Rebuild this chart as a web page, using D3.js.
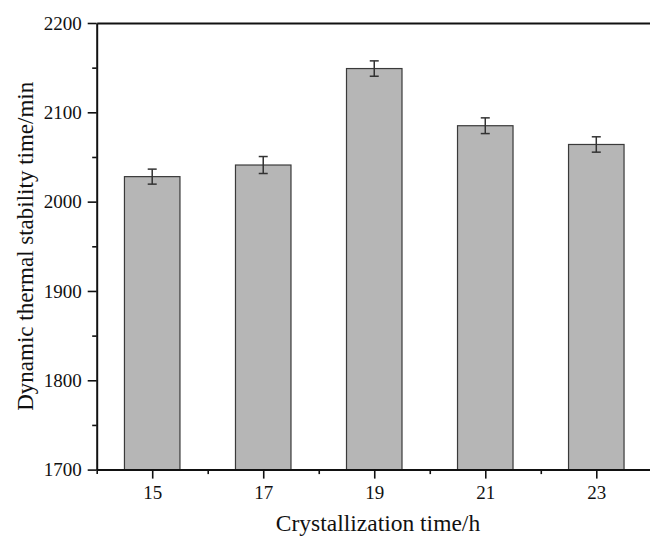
<!DOCTYPE html>
<html>
<head>
<meta charset="utf-8">
<script src="https://cdn.jsdelivr.net/npm/d3@7"></script>
<style>
  html, body { margin: 0; padding: 0; background: #fff; }
  svg { display: block; }
  svg text { font-family: "Liberation Serif", "Times New Roman", serif !important; fill: #111; }
</style>
</head>
<body>
<svg id="chart" width="650" height="540"></svg>
<script>
const categories = [15, 17, 19, 21, 23];
const values = [2028, 2041, 2149, 2085, 2064];
const errors = [8.4, 9.5, 8.6, 8.8, 8.6];
const yMajorTicks = [1700, 1800, 1900, 2000, 2100, 2200];
const yMinorTicks = [1750, 1850, 1950, 2050, 2150];
const xMajorTicks = [15, 17, 19, 21, 23];
const xMinorTicks = [14, 16, 18, 20, 22, 24];
const xTitle = "Crystallization time/h";
const yTitle = "Dynamic thermal stability time/min";

(function () {
const pLeft = 96.7, pRight = 651.8, pTop = 23, pBottom = 469.6;
const FONT = "Liberation Serif, Times New Roman, serif";
const svg = d3.select("#chart");

const x = d3.scaleLinear().domain([14, 24]).range([pLeft, pRight]);
const y = d3.scaleLinear().domain([1700, 2200]).range([pBottom, pTop]);
const barW = x(15.5) - x(14.5);

const data = categories.map((c, i) => ({ c, v: values[i], e: errors[i] }));

svg.append("g").selectAll("rect").data(data).join("rect")
  .attr("x", d => x(d.c) - barW / 2)
  .attr("y", d => y(d.v))
  .attr("width", barW)
  .attr("height", d => y(1700) - y(d.v))
  .attr("fill", "#b6b6b6")
  .attr("stroke", "#3a3a3a")
  .attr("stroke-width", 1.2);

const eg = svg.append("g").attr("stroke", "#333").attr("stroke-width", 1.5);
eg.selectAll("line.v").data(data).join("line").attr("class", "v")
  .attr("x1", d => x(d.c)).attr("x2", d => x(d.c))
  .attr("y1", d => y(d.v + d.e)).attr("y2", d => y(d.v - d.e));
eg.selectAll("line.t").data(data).join("line").attr("class", "t")
  .attr("x1", d => x(d.c) - 4.5).attr("x2", d => x(d.c) + 4.5)
  .attr("y1", d => y(d.v + d.e)).attr("y2", d => y(d.v + d.e));
eg.selectAll("line.b").data(data).join("line").attr("class", "b")
  .attr("x1", d => x(d.c) - 4.5).attr("x2", d => x(d.c) + 4.5)
  .attr("y1", d => y(d.v - d.e)).attr("y2", d => y(d.v - d.e));

function styleAxis(g) {
  g.attr("font-family", FONT).attr("font-size", 19);
  g.selectAll(".domain").attr("stroke", "#111").attr("stroke-width", 2);
  g.selectAll(".tick line").attr("stroke", "#111").attr("stroke-width", 1.6);
  g.selectAll(".tick text").attr("fill", "#111");
}

const yMinor = svg.append("g").attr("transform", `translate(${pLeft},0)`)
  .call(d3.axisLeft(y).tickValues(yMinorTicks).tickSize(4.5).tickFormat(""));
styleAxis(yMinor); yMinor.select(".domain").remove();

const yAxis = svg.append("g").attr("transform", `translate(${pLeft},0)`)
  .call(d3.axisLeft(y).tickValues(yMajorTicks).tickSize(9).tickSizeOuter(0).tickPadding(6).tickFormat(d3.format("d")));
styleAxis(yAxis);

const xMinor = svg.append("g").attr("transform", `translate(0,${pBottom})`)
  .call(d3.axisBottom(x).tickValues(xMinorTicks).tickSize(4.5).tickFormat(""));
styleAxis(xMinor); xMinor.select(".domain").remove();

const xAxis = svg.append("g").attr("transform", `translate(0,${pBottom})`)
  .call(d3.axisBottom(x).tickValues(xMajorTicks).tickSize(9).tickSizeOuter(0).tickPadding(7).tickFormat(d3.format("d")));
styleAxis(xAxis);

const topAxis = svg.append("g").attr("transform", `translate(0,${pTop})`)
  .call(d3.axisTop(x).tickValues([]).tickSizeOuter(0));
styleAxis(topAxis);
const rightAxis = svg.append("g").attr("transform", `translate(${pRight},0)`)
  .call(d3.axisRight(y).tickValues([]).tickSizeOuter(0));
styleAxis(rightAxis);

svg.append("text")
  .attr("x", 378).attr("y", 531)
  .attr("text-anchor", "middle")
  .attr("font-family", FONT)
  .attr("font-size", 23.5)
  .text(xTitle);

svg.append("text")
  .attr("transform", `translate(33,${(pTop + pBottom) / 2}) rotate(-90)`)
  .attr("text-anchor", "middle")
  .attr("font-family", FONT)
  .attr("font-size", 23)
  .text(yTitle);
})();
</script>
</body>
</html>
